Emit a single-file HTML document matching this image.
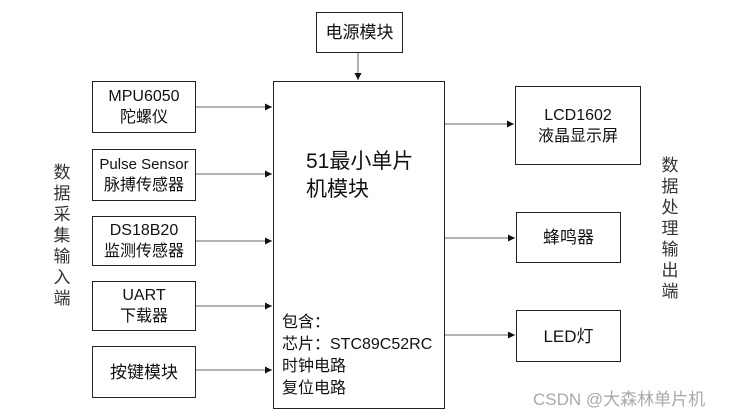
<!DOCTYPE html>
<html><head><meta charset="utf-8"><style>
body{margin:0;width:741px;height:416px;background:#fff;position:relative;overflow:hidden;font-family:"Liberation Sans","Noto Sans CJK SC",sans-serif;color:#111}
.b{position:absolute;border:1.5px solid #222;box-sizing:border-box;display:flex;flex-direction:column;align-items:center;justify-content:center;font-size:16px;line-height:21px;text-align:center;white-space:nowrap}
.t{position:absolute;white-space:nowrap}
.v{position:absolute;font-size:17px;line-height:21px;width:20px;text-align:center;color:#333}
</style></head><body>
<svg width="741" height="416" style="position:absolute;left:0;top:0">
<defs><marker id="a" markerWidth="8" markerHeight="8" refX="7" refY="4" orient="auto" markerUnits="userSpaceOnUse"><path d="M0,0.5L7,4L0,7.5z" fill="#111"/></marker></defs>
<g stroke="#666" stroke-width="1" marker-end="url(#a)">
<line x1="358" y1="53" x2="358" y2="80"/>
<line x1="196" y1="107" x2="272" y2="107"/>
<line x1="196" y1="174" x2="272" y2="174"/>
<line x1="196" y1="241" x2="272" y2="241"/>
<line x1="196" y1="306" x2="272" y2="306"/>
<line x1="196" y1="370" x2="272" y2="370"/>
<line x1="445" y1="124" x2="514" y2="124"/>
<line x1="445" y1="238" x2="515" y2="238"/>
<line x1="445" y1="335" x2="515" y2="335"/>
</g></svg>
<div class="b" style="left:316px;top:12px;width:87px;height:41px;font-size:17px">电源模块</div>
<div class="b" style="left:273px;top:81px;width:172px;height:328px"></div>
<div class="t" style="left:306px;top:148px;font-size:21px;line-height:28px">51最小单片<br>机模块</div>
<div class="t" style="left:282px;top:312px;font-size:16px;line-height:22px">包含：<br>芯片：STC89C52RC<br>时钟电路<br>复位电路</div>
<div class="b" style="left:92px;top:81px;width:104px;height:52px">MPU6050<br>陀螺仪</div>
<div class="b" style="left:92px;top:149px;width:104px;height:52px;font-size:15px">Pulse Sensor<br><span style="font-size:16px">脉搏传感器</span></div>
<div class="b" style="left:92px;top:216px;width:104px;height:50px">DS18B20<br>监测传感器</div>
<div class="b" style="left:92px;top:281px;width:104px;height:50px">UART<br>下载器</div>
<div class="b" style="left:92px;top:346px;width:104px;height:52px;font-size:17px">按键模块</div>
<div class="b" style="left:515px;top:86px;width:126px;height:79px">LCD1602<br>液晶显示屏</div>
<div class="b" style="left:516px;top:212px;width:105px;height:51px;font-size:17px">蜂鸣器</div>
<div class="b" style="left:516px;top:310px;width:105px;height:52px;font-size:17px">LED灯</div>
<div class="v" style="left:52px;top:162px">数据采集输入端</div>
<div class="v" style="left:660px;top:155px">数据处理输出端</div>
<div class="t" style="left:533px;top:385px;font-size:17px;color:#aaa">CSDN @大森林单片机</div>
</body></html>
